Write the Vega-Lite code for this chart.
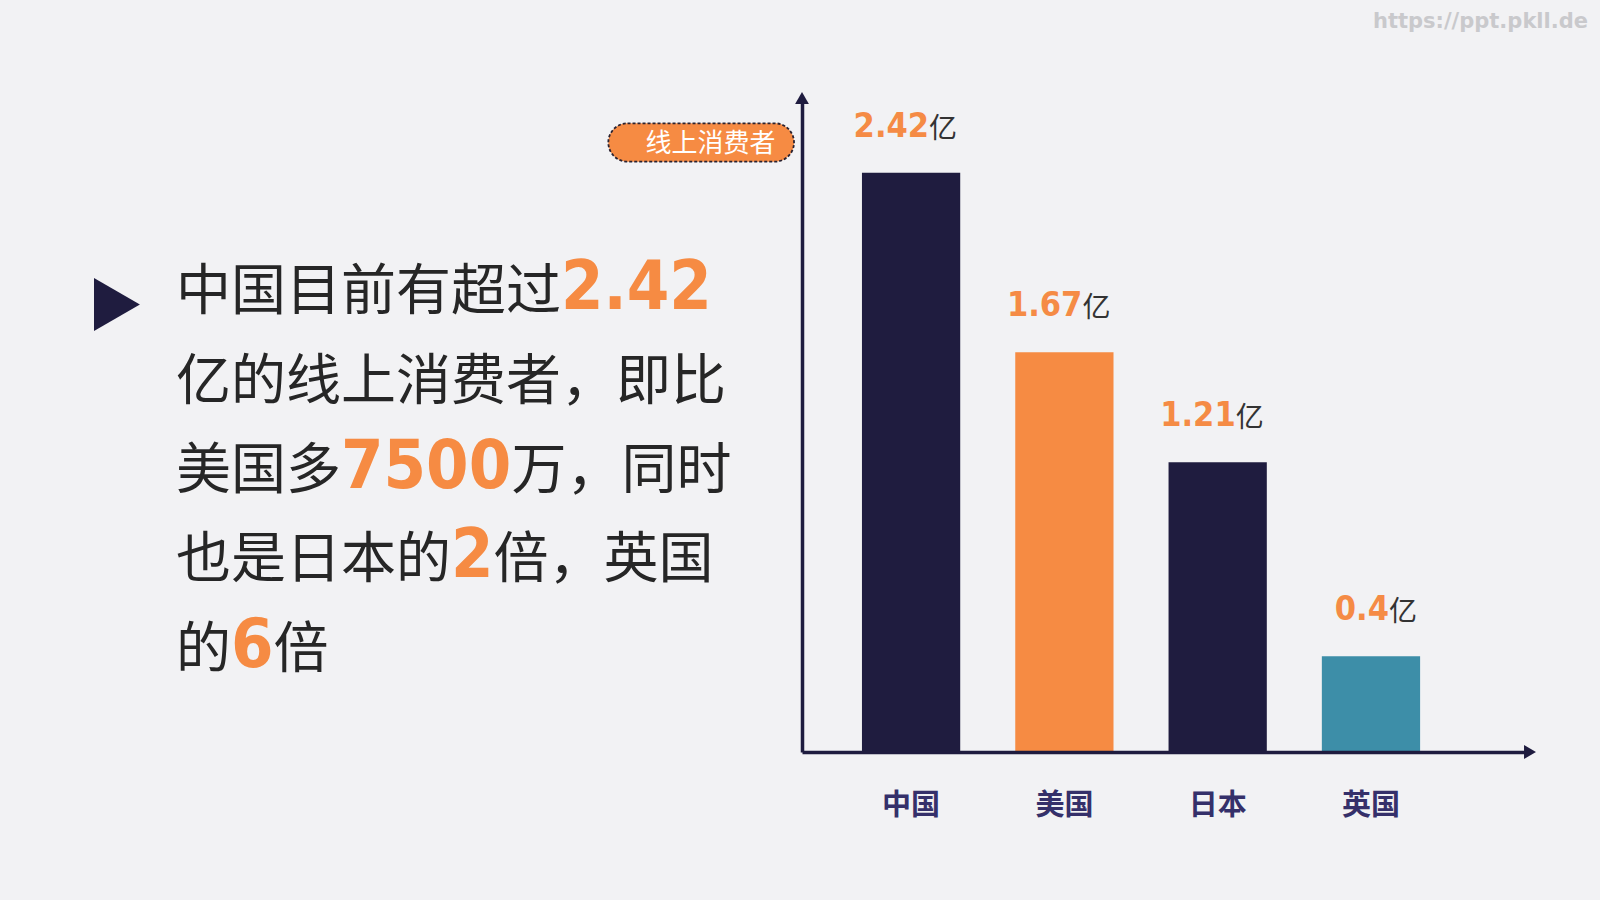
{
  "$schema": "https://vega.github.io/schema/vega-lite/v6.json",
  "width": 728,
  "height": 654,
  "autosize": {"type": "none"},
  "padding": {"left": 802, "top": 98, "right": 70, "bottom": 148},
  "background": "#f2f2f4",
  "config": {"view": {"stroke": null}},
  "title": {
    "text": "https://ppt.pkll.de",
    "anchor": "end",
    "frame": "group",
    "orient": "top",
    "dx": 58,
    "offset": 43,
    "baseline": "alphabetic",
    "font": "DejaVu Sans",
    "fontWeight": "bold",
    "fontSize": 21,
    "color": "#c9c9cc"
  },
  "datasets": {
    "consumers": [
      {"country": "中国", "value": 2.42},
      {"country": "美国", "value": 1.67},
      {"country": "日本", "value": 1.21},
      {"country": "英国", "value": 0.4}
    ],
    "para": [
      {"line": 1, "seg": 1, "text": "中国目前有超过", "hl": false},
      {"line": 1, "seg": 2, "text": "2.42", "hl": true},
      {"line": 2, "seg": 1, "text": "亿的线上消费者，即比", "hl": false},
      {"line": 3, "seg": 1, "text": "美国多", "hl": false},
      {"line": 3, "seg": 2, "text": "7500", "hl": true},
      {"line": 3, "seg": 3, "text": "万，同时", "hl": false},
      {"line": 4, "seg": 1, "text": "也是日本的", "hl": false},
      {"line": 4, "seg": 2, "text": "2", "hl": true},
      {"line": 4, "seg": 3, "text": "倍，英国", "hl": false},
      {"line": 5, "seg": 1, "text": "的", "hl": false},
      {"line": 5, "seg": 2, "text": "6", "hl": true},
      {"line": 5, "seg": 3, "text": "倍", "hl": false}
    ]
  },
  "layer": [
    {
      "data": {"name": "consumers"},
      "encoding": {
        "x": {
          "field": "country",
          "type": "nominal",
          "sort": null,
          "scale": {"paddingInner": 0.359, "paddingOuter": 0.554, "align": 0.353},
          "axis": {
            "title": null,
            "domain": true,
            "domainColor": "#1f1c3f",
            "domainWidth": 3.5,
            "ticks": false,
            "grid": false,
            "labelAngle": 0,
            "labelFont": "Noto Sans CJK SC",
            "labelFontWeight": "bold",
            "labelFontSize": 29,
            "labelColor": "#35306a",
            "labelBaseline": "middle",
            "labelPadding": 53,
            "zindex": 1
          }
        },
        "y": {
          "field": "value",
          "type": "quantitative",
          "scale": {"domain": [0, 2.732], "nice": false, "zero": true},
          "axis": {
            "title": null,
            "domain": true,
            "domainColor": "#1f1c3f",
            "domainWidth": 3.5,
            "ticks": false,
            "labels": false,
            "grid": false,
            "zindex": 1
          }
        }
      },
      "layer": [
        {
          "mark": {"type": "bar"},
          "encoding": {
            "color": {
              "field": "country",
              "type": "nominal",
              "scale": {
                "domain": ["中国", "美国", "日本", "英国"],
                "range": ["#1f1c3f", "#f68b43", "#1f1c3f", "#3d8ea8"]
              },
              "legend": null
            }
          }
        },
        {
          "mark": {
            "type": "text",
            "font": "DejaVu Sans Condensed, sans-serif",
            "fontWeight": "bold",
            "fontSize": 34,
            "color": "#f58b45",
            "align": "right",
            "baseline": "alphabetic",
            "dx": 18,
            "dy": -36
          },
          "encoding": {"text": {"field": "value", "type": "quantitative", "format": ".3~g"}}
        },
        {
          "mark": {
            "type": "text",
            "font": "Noto Sans CJK SC",
            "fontSize": 28,
            "color": "#333333",
            "align": "left",
            "baseline": "alphabetic",
            "dx": 18,
            "dy": -35
          },
          "encoding": {"text": {"value": "亿"}}
        }
      ]
    },
    {
      "layer": [
        {
          "data": {"name": "para"},
          "transform": [
            {"calculate": "datum.hl ? length(datum.text) * 0.775 - (indexof(datum.text, '.') >= 0 ? 0.35 : 0) : length(datum.text)", "as": "w"},
            {"window": [{"op": "sum", "field": "w", "as": "cum"}], "groupby": ["line"], "sort": [{"field": "seg"}], "frame": [null, 0]},
            {"calculate": "datum.cum - datum.w", "as": "x0"},
            {"filter": "!datum.hl"}
          ],
          "mark": {
            "type": "text",
            "font": "Noto Sans CJK SC",
            "fontSize": 55,
            "color": "#262626",
            "align": "left",
            "baseline": "alphabetic"
          },
          "encoding": {
            "x": {"field": "x0", "type": "quantitative", "scale": {"domain": [11.382, 24.618], "nice": false, "zero": false}, "axis": null},
            "y": {"field": "line", "type": "quantitative", "scale": {"domain": [-1.367, 5.957], "nice": false, "zero": false, "reverse": true}, "axis": null},
            "text": {"field": "text"}
          }
        },
        {
          "data": {"name": "para"},
          "transform": [
            {"calculate": "datum.hl ? length(datum.text) * 0.775 - (indexof(datum.text, '.') >= 0 ? 0.35 : 0) : length(datum.text)", "as": "w"},
            {"window": [{"op": "sum", "field": "w", "as": "cum"}], "groupby": ["line"], "sort": [{"field": "seg"}], "frame": [null, 0]},
            {"calculate": "datum.cum - datum.w", "as": "x0"},
            {"filter": "datum.hl"}
          ],
          "mark": {
            "type": "text",
            "font": "DejaVu Sans Condensed, sans-serif",
            "fontWeight": "bold",
            "fontSize": 68,
            "color": "#f68b43",
            "align": "left",
            "baseline": "alphabetic"
          },
          "encoding": {
            "x": {"field": "x0", "type": "quantitative"},
            "y": {"field": "line", "type": "quantitative"},
            "text": {"field": "text"}
          }
        },
        {
          "data": {"values": [{}]},
          "mark": {"type": "point", "shape": "triangle-right", "size": 2809, "filled": true, "color": "#1f1c3f", "opacity": 1},
          "encoding": {
            "x": {"datum": -1.073, "type": "quantitative"},
            "y": {"datum": 0.9455, "type": "quantitative"}
          }
        },
        {
          "data": {"values": [{}]},
          "mark": {
            "type": "point",
            "shape": "M-0.7932,-0.2068L0.7932,-0.2068C0.9074,-0.2068,1,-0.1142,1,0C1,0.1142,0.9074,0.2068,0.7932,0.2068L-0.7932,0.2068C-0.9074,0.2068,-1,0.1142,-1,0C-1,-0.1142,-0.9074,-0.2068,-0.7932,-0.2068Z",
            "size": 34484,
            "filled": true,
            "fill": "#f68b43",
            "stroke": "#2a2230",
            "strokeWidth": 1.8,
            "strokeDash": [3, 2],
            "opacity": 1,
            "fillOpacity": 1
          },
          "encoding": {
            "x": {"datum": 9.549, "type": "quantitative"},
            "y": {"datum": -0.8687, "type": "quantitative"}
          }
        },
        {
          "data": {"values": [{}]},
          "mark": {
            "type": "text",
            "font": "Noto Sans CJK SC",
            "fontSize": 26,
            "color": "#ffffff",
            "align": "center",
            "baseline": "middle"
          },
          "encoding": {
            "x": {"datum": 9.718, "type": "quantitative"},
            "y": {"datum": -0.8519, "type": "quantitative"},
            "text": {"value": "线上消费者"}
          }
        }
      ]
    },
    {
      "data": {"values": [{}]},
      "layer": [
        {
          "mark": {"type": "point", "shape": "triangle-up", "size": 190, "filled": true, "color": "#1f1c3f", "opacity": 1},
          "encoding": {
            "x": {"datum": 0, "type": "quantitative", "scale": {"domain": [0, 1], "nice": false}, "axis": null},
            "y": {"datum": 1, "type": "quantitative", "scale": {"domain": [0, 1], "nice": false}, "axis": null}
          }
        },
        {
          "mark": {"type": "point", "shape": "triangle-right", "size": 190, "filled": true, "color": "#1f1c3f", "opacity": 1},
          "encoding": {
            "x": {"datum": 1, "type": "quantitative"},
            "y": {"datum": 0, "type": "quantitative"}
          }
        }
      ]
    }
  ],
  "resolve": {"scale": {"x": "independent", "y": "independent", "color": "independent"}}
}
